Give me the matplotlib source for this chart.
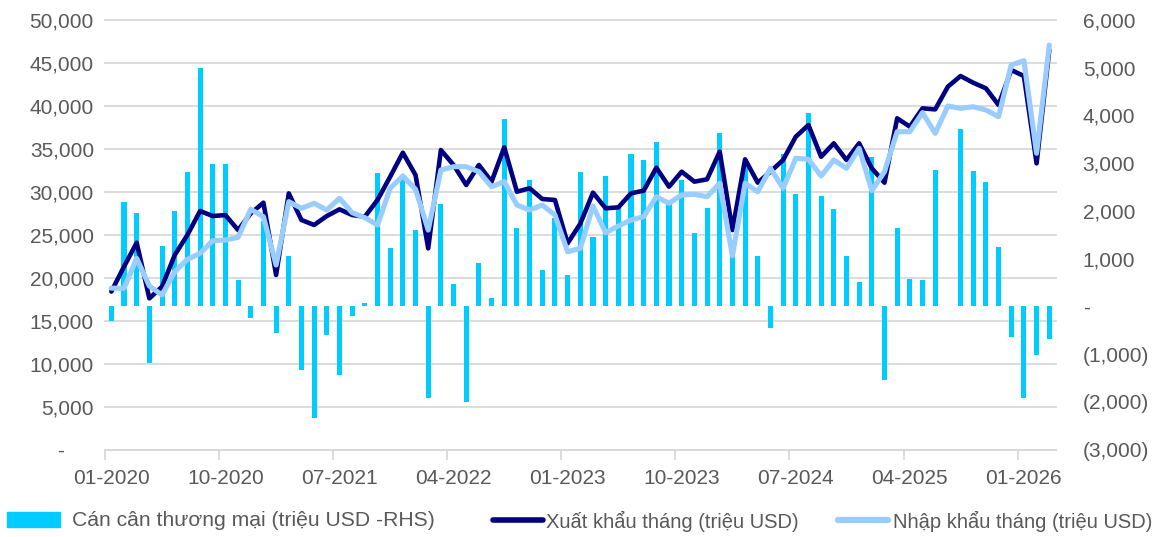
import numpy as np
import matplotlib
matplotlib.use("Agg")
import matplotlib.pyplot as plt
from matplotlib import transforms
from matplotlib.lines import Line2D
from matplotlib.patches import Patch
from matplotlib.ticker import FuncFormatter

plt.rcParams["font.family"] = ["Liberation Sans", "DejaVu Sans"]

# Data (monthly, 01-2020 .. 03-2026)

tick_labels = [
    "01-2020", "10-2020", "07-2021", "04-2022", "01-2023",
    "10-2023", "07-2024", "04-2025", "01-2026"
]

# trade balance, million USD (right axis)
balance = [
    -300, 2195, 1950, -1190, 1270, 2000, 2820, 5000, 2980, 2980, 555, -250,
    1800, -550, 1060, -1330, -2340, -600, -1430, -200, 80, 2800, 1230, 2650,
    1600, -1920, 2150, 465, -2010, 910, 185, 3920, 1645, 2655, 765, 1850,
    650, 2820, 1455, 2735, 2100, 3195, 3070, 3445, 2200, 2650, 1545, 2065,
    3635, 1200, 3080, 1065, -445, 3195, 2355, 4045, 2315, 2035, 1065, 520,
    3125, -1540, 1640, 575, 555, 2860, 20, 3710, 2845, 2600, 1255, -630,
    -1925, -1025, -675,
]

# exports, million USD (left axis)
exports = [
    18400, 21300, 24090, 17610, 18970, 22650, 24980, 27775, 27190, 27300, 25560, 27500,
    28740, 20330, 29830, 26730, 26150, 27190, 27970, 27310, 27110, 29060, 31770, 34560,
    31960, 23430, 34870, 33130, 30800, 33130, 31190, 35190, 30020, 30420, 29170, 29060,
    24020, 26300, 29910, 28090, 28200, 29830, 30140, 32810, 30600, 32350, 31190, 31460,
    34680, 25560, 33790, 31070, 32350, 33710, 36420, 37780, 34090, 35650, 33710, 35650,
    32740, 31070, 38560, 37590, 39720, 39600, 42240, 43480, 42700, 42050, 40110, 44180,
    43480, 33320, 46500,
]

# imports, million USD (left axis)
imports = [
    18800, 18780, 22270, 19050, 18000, 20710, 22150, 22850, 24320, 24400, 24710, 27970,
    27110, 21490, 28860, 28090, 28670, 27890, 29250, 27580, 27000, 26150, 30420, 31850,
    30300, 25560, 32550, 32930, 32930, 32350, 30600, 31190, 28470, 27890, 28470, 27310,
    23040, 23430, 28360, 25250, 26030, 26730, 27110, 29440, 28670, 29640, 29720, 29440,
    31000, 22570, 31000, 30020, 32740, 30420, 33910, 33790, 31850, 33710, 32740, 35070,
    30140, 32350, 37000, 37000, 39220, 36810, 39990, 39720, 39910, 39530, 38750, 44760,
    45260, 34490, 47080,
]

x = np.arange(len(balance))

bar_color = "#00CCFF"
exp_color = "#000080"
imp_color = "#99CCFF"
grid_color = "#D9D9D9"
text_color = "#595959"

fig = plt.figure(figsize=(11.55, 5.37), dpi=100)
ax = fig.add_axes([105 / 1155, 87.3 / 537, 950.6 / 1155, 429.7 / 537])
ax2 = ax.twinx()
ax.set_zorder(ax2.get_zorder() + 1)
ax.patch.set_visible(False)

# gridlines follow the left axis but sit under the bars
left_ticks = np.arange(0, 50001, 5000)
blend = transforms.blended_transform_factory(ax2.transAxes, ax.transData)
for t in left_ticks:
    ax2.plot([0, 1], [t, t], transform=blend, color=grid_color, lw=1.3,
             zorder=0, clip_on=False)

ax2.bar(x, balance, width=0.4, color=bar_color, zorder=2)

ax.plot(x, exports, color=exp_color, lw=3.3,
        solid_joinstyle="round", solid_capstyle="round")
ax.plot(x, imports, color=imp_color, lw=3.7,
        solid_joinstyle="round", solid_capstyle="round")

ax.set_xlim(-0.5, len(balance) - 0.5)
ax.set_ylim(0, 50000)
ax2.set_ylim(-3000, 6000)

ax.set_yticks(left_ticks)
ax2.set_yticks(np.arange(-3000, 6001, 1000))


def left_fmt(v, pos):
    if v == 0:
        return "-     "
    return f"{v:,.0f}"


def right_fmt(v, pos):
    if v == 0:
        return "-"
    if v < 0:
        return f"({-v:,.0f})"
    return f"{v:,.0f}"


ax.yaxis.set_major_formatter(FuncFormatter(left_fmt))
ax2.yaxis.set_major_formatter(FuncFormatter(right_fmt))

# tick marks between categories, labels on the category
ax.set_xticks(np.arange(-0.5, len(balance), 9))
ax.set_xticks(np.arange(0, len(balance), 9), minor=True)
ax.set_xticklabels([], minor=False)
ax.set_xticklabels(tick_labels, minor=True)
ax.tick_params(axis="x", which="major", length=7, width=1.3, color=grid_color)
ax.tick_params(axis="x", which="minor", length=0, pad=14,
               labelsize=15, labelcolor=text_color)

ax.tick_params(axis="y", length=0, pad=8, labelsize=15, labelcolor=text_color)
ax2.tick_params(axis="y", length=0, pad=19.5, labelsize=15, labelcolor=text_color)
for lab in ax2.get_yticklabels():
    lab.set_horizontalalignment("left")

for a in (ax, ax2):
    for s in ("top", "left", "right"):
        a.spines[s].set_visible(False)
ax2.spines["bottom"].set_visible(False)
ax.spines["bottom"].set_color(grid_color)
ax.spines["bottom"].set_linewidth(1.3)

# legend: three entries in one row along the bottom
legend_y = 16 / 537
common = dict(loc="center left", frameon=False, borderpad=0, borderaxespad=0,
              labelcolor=text_color)

fig.legend(handles=[Patch(color=bar_color)],
           labels=["Cán cân thương mại (triệu USD -RHS)"],
           bbox_to_anchor=(7 / 1155, legend_y), handlelength=2.5,
           handletextpad=0.6, fontsize=15.2, **common)
fig.legend(handles=[Line2D([], [], color=exp_color, lw=4, solid_capstyle="round")],
           labels=["Xuất khẩu tháng (triệu USD)"],
           bbox_to_anchor=(493 / 1155, legend_y), handlelength=2.5,
           handletextpad=0.15, fontsize=14.5, **common)
fig.legend(handles=[Line2D([], [], color=imp_color, lw=4.5, solid_capstyle="round")],
           labels=["Nhập khẩu tháng (triệu USD)"],
           bbox_to_anchor=(838 / 1155, legend_y), handlelength=2.5,
           handletextpad=0.25, fontsize=14.5, **common)

fig.savefig("out.png", dpi=100)
